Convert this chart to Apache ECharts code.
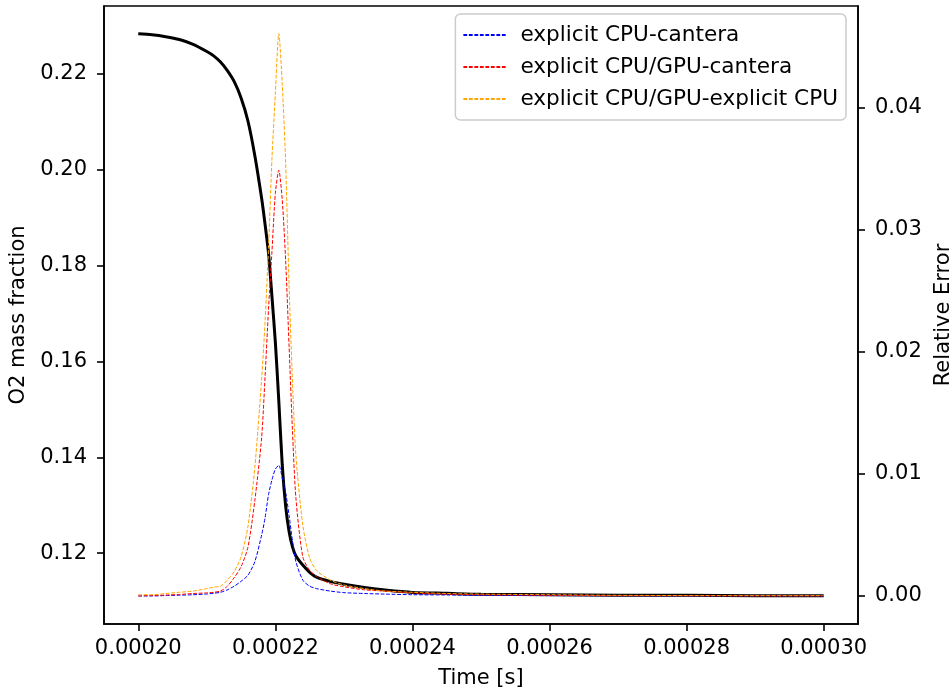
<!DOCTYPE html>
<html>
<head>
<meta charset="utf-8">
<script src="https://cdn.jsdelivr.net/npm/echarts@6/dist/echarts.min.js"></script>
<style>html,body{margin:0;padding:0;background:#fff}#c{width:952px;height:691px}</style>
</head>
<body>
<div id="c"></div>
<script>
// Time [s]
const timeS = [0.000200,0.000202,0.000204,0.000206,0.000208,0.000210,0.000211,0.000212,0.000213,0.000214,
  0.000215,0.000216,0.000217,0.000218,0.0002185,0.000219,0.0002195,0.000220,0.0002205,0.000221,
  0.0002215,0.000222,0.0002225,0.000223,0.000224,0.000225,0.000226,0.000228,0.000230,0.000233,
  0.000236,0.000240,0.000245,0.000250,0.000260,0.000270,0.000280,0.000290,0.000300];
// O2 mass fraction (left axis)
const o2 = [0.2284,0.2282,0.2278,0.2272,0.2262,0.2247,0.2238,0.2225,0.2207,0.2184,
  0.2150,0.2102,0.2030,0.1940,0.1886,0.1826,0.1736,0.1640,0.1518,0.1385,
  0.1298,0.1245,0.1213,0.1194,0.1175,0.1160,0.1150,0.1141,0.1135,0.1128,
  0.1123,0.1118,0.1116,0.1114,0.1113,0.1112,0.1112,0.1111,0.1111];
// Relative errors (right axis)
const errCpuCantera = [0.0000,0.0000,0.00003,0.00006,0.0001,0.00016,0.00022,0.0003,0.0005,0.0008,
  0.0012,0.0017,0.0028,0.0050,0.0064,0.0083,0.0095,0.0104,0.0107,0.0097,
  0.0085,0.0066,0.0045,0.0028,0.0013,0.0008,0.0006,0.0004,0.00027,0.0002,
  0.00015,0.0001,0.00008,0.00005,0.00003,0.00002,0.00001,0.00001,0.00001];
const errGpuCantera = [0.0000,0.00003,0.00007,0.00012,0.0002,0.00025,0.0003,0.0004,0.0008,0.0015,
  0.0024,0.0040,0.0078,0.0130,0.0180,0.0235,0.0282,0.0330,0.0349,0.0325,
  0.0275,0.0205,0.0135,0.0080,0.0032,0.0021,0.0016,0.0010,0.00075,0.0005,
  0.0004,0.00025,0.00015,0.0001,0.00005,0.00003,0.00002,0.00001,0.00001];
const errGpuCpu = [0.0001,0.0001,0.0002,0.0003,0.0004,0.0006,0.00072,0.0008,0.0013,0.0020,
  0.0032,0.0057,0.0105,0.0178,0.0225,0.0285,0.0358,0.0412,0.0461,0.0420,
  0.0355,0.0255,0.0175,0.0115,0.0058,0.0031,0.0021,0.0013,0.0009,0.0006,
  0.0004,0.0003,0.0002,0.00015,0.0001,0.00005,0.00003,0.00002,0.00002];
const xTicks = [0.00020,0.00022,0.00024,0.00026,0.00028,0.00030];
const yLeftTicks = [0.12,0.14,0.16,0.18,0.20,0.22];
const yRightTicks = [0.00,0.01,0.02,0.03,0.04];
const seriesNames = ['explicit CPU-cantera','explicit CPU/GPU-cantera','explicit CPU/GPU-explicit CPU'];

const pair = (xs, ys) => xs.map((x, i) => [x, ys[i]]);
const FONT = 'DejaVu Sans';
const FS = 21;
const tickStyle = {color: '#000', width: 1.6};
const nameStyle = {fontFamily: FONT, fontSize: FS, color: '#000'};
const labelBase = {fontFamily: FONT, fontSize: FS, color: '#000'};
const dash = [3.8, 1.7];
const chart = echarts.init(document.getElementById('c'), null, {renderer: 'canvas'});
chart.setOption({
  animation: false,
  backgroundColor: '#fff',
  grid: {left: 104, right: 94, top: 6, bottom: 67, outerBoundsMode: 'none', containLabel: false,
         show: true, borderColor: '#000', borderWidth: 1.6, backgroundColor: 'transparent'},
  legend: {
    data: seriesNames,
    orient: 'vertical',
    right: 106, top: 14,
    itemWidth: 44, itemHeight: 12, itemGap: 10,
    padding: [10, 8, 10, 7],
    backgroundColor: 'rgba(255,255,255,0.8)',
    borderColor: '#cccccc', borderWidth: 1.5, borderRadius: 5,
    itemStyle: {opacity: 0},
    textStyle: {fontFamily: FONT, fontSize: 21.6, color: '#000', lineHeight: 20.5, padding: [0, 0, 0, 8]}
  },
  xAxis: {
    type: 'value', min: 0.000195, max: 0.000305,
    name: 'Time [s]', nameLocation: 'middle', nameGap: 44, nameTextStyle: nameStyle,
    axisLine: {show: true, onZero: false, lineStyle: tickStyle},
    splitLine: {show: false},
    axisLabel: Object.assign({customValues: xTicks, formatter: v => v.toFixed(5), margin: 14}, labelBase),
    axisTick: {show: true, customValues: xTicks, length: 7, lineStyle: tickStyle}
  },
  yAxis: [
    {
      type: 'value', position: 'left', min: 0.1052, max: 0.2342,
      name: 'O2 mass fraction', nameLocation: 'middle', nameGap: 71, nameTextStyle: nameStyle,
      axisLine: {show: true, onZero: false, lineStyle: tickStyle},
      splitLine: {show: false},
      axisLabel: Object.assign({customValues: yLeftTicks, formatter: v => v.toFixed(2), margin: 17}, labelBase),
      axisTick: {show: true, customValues: yLeftTicks, length: 7, lineStyle: tickStyle}
    },
    {
      type: 'value', position: 'right', min: -0.0023, max: 0.04836,
      name: 'Relative Error', nameLocation: 'middle', nameGap: 71, nameTextStyle: nameStyle,
      axisLine: {show: true, onZero: false, lineStyle: tickStyle},
      splitLine: {show: false},
      axisLabel: Object.assign({customValues: yRightTicks, formatter: v => v.toFixed(2), margin: 17}, labelBase),
      axisTick: {show: true, customValues: yRightTicks, length: 7, lineStyle: tickStyle}
    }
  ],
  series: [
    {name: 'O2', type: 'line', yAxisIndex: 0, data: pair(timeS, o2), symbol: 'none', smooth: 0.25,
     lineStyle: {color: '#000', width: 3}, itemStyle: {color: '#000'}, z: 2},
    {name: seriesNames[0], type: 'line', yAxisIndex: 1, data: pair(timeS, errCpuCantera), symbol: 'none', smooth: 0.25,
     lineStyle: {color: '#0000ff', width: 1, type: dash}, itemStyle: {color: '#0000ff'}, z: 3},
    {name: seriesNames[1], type: 'line', yAxisIndex: 1, data: pair(timeS, errGpuCantera), symbol: 'none', smooth: 0.25,
     lineStyle: {color: '#ff0000', width: 1, type: dash}, itemStyle: {color: '#ff0000'}, z: 3},
    {name: seriesNames[2], type: 'line', yAxisIndex: 1, data: pair(timeS, errGpuCpu), symbol: 'none', smooth: 0.25,
     lineStyle: {color: '#ffa500', width: 1, type: dash}, itemStyle: {color: '#ffa500'}, z: 3}
  ]
});
</script>
</body>
</html>
